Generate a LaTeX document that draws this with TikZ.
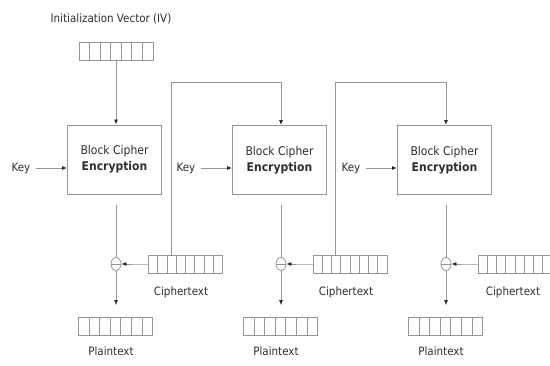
\documentclass[tikz,border=0pt]{standalone}
\usepackage{fontspec}
\setmainfont{DejaVu Sans Condensed}
\usetikzlibrary{arrows.meta,calc}
\definecolor{linegray}{HTML}{959595}
\definecolor{textgray}{HTML}{2E2E2E}
\tikzset{
  wire/.style={draw=linegray, line width=0.8pt},
  flow/.style={wire, -{Latex[length=5pt,width=4pt,color=black!85]}},
  cipherbox/.style={draw=linegray, line width=1pt, minimum width=94pt, minimum height=69pt,
    align=center, text=textgray, font=\fontsize{12}{16}\selectfont, inner sep=0pt},
  lbl/.style={text=textgray, font=\fontsize{11.5}{13}\selectfont, inner sep=1pt},
  cells/.style={draw=linegray, line width=0.8pt, minimum width=74pt, minimum height=18pt, inner sep=0pt,
    path picture={
      \foreach \i in {1,...,\numexpr#1-1\relax}
        \draw[linegray, line width=0.8pt]
          ($(path picture bounding box.south west)!\i/#1!(path picture bounding box.south east)$) --
          ($(path picture bounding box.north west)!\i/#1!(path picture bounding box.north east)$);
    }},
  xorsym/.style={draw=linegray, line width=0.8pt, ellipse, minimum width=10pt, minimum height=13pt, inner sep=0pt,
    path picture={\draw[linegray, line width=0.8pt]
      (path picture bounding box.west) -- (path picture bounding box.east);}}
}
\usetikzlibrary{shapes.geometric}
\begin{document}
\begin{tikzpicture}[x=1pt, y=-1pt]
  \useasboundingbox (0,0) rectangle (550,365);

  % initialization vector
  \node[lbl] (ivlabel) at (111,19) {Initialization Vector (IV)};
  \node[cells=7] (iv) at (116,51) {};

  % block cipher stages
  \node[cipherbox] (bc1) at (114.5,159.5) {Block Cipher\\\textbf{Encryption}};
  \node[cipherbox] (bc2) at (279.5,160) {Block Cipher\\\textbf{Encryption}};
  \node[cipherbox] (bc3) at (444.5,160) {Block Cipher\\\textbf{Encryption}};

  % keys
  \node[lbl] (key1) at (21,168) {Key};
  \node[lbl] (key2) at (186,168) {Key};
  \node[lbl] (key3) at (351,168) {Key};

  % xor points
  \node[xorsym] (x1) at (116,264) {};
  \node[xorsym] (x2) at (281,264) {};
  \node[xorsym] (x3) at (446,264) {};

  % ciphertext blocks
  \node[cells=8] (c1) at (185.5,264) {};
  \node[cells=8] (c2) at (350,264) {};
  \node[cells=8] (c3) at (515,264) {};
  \node[lbl] (c1l) at (181,292) {Ciphertext};
  \node[lbl] (c2l) at (346,292) {Ciphertext};
  \node[lbl] (c3l) at (513,292) {Ciphertext};

  % plaintext blocks
  \node[cells=7] (p1) at (115.5,326.5) {};
  \node[cells=7] (p2) at (280.5,326.5) {};
  \node[cells=7] (p3) at (445.5,326.5) {};
  \node[lbl] (p1l) at (111,351) {Plaintext};
  \node[lbl] (p2l) at (276,351) {Plaintext};
  \node[lbl] (p3l) at (441,351) {Plaintext};

  % connectors
  \draw[flow] (iv.south -| x1) -- (bc1.north -| x1);
  \foreach \k in {1,2,3} {
    \draw[flow] (key\k.east) ++(4,0) -- (bc\k.west |- key\k);
    \draw[wire] ($(bc\k.south -| x\k)+(0,10)$) -- (x\k.north);
    \draw[flow] (c\k.west) -- ++(-12,0) -- (x\k.east);
    \draw[flow] (x\k.south) -- ($(p\k.north)+(0.5,-12)$);
  }

  % chaining from each ciphertext to the next stage
  \coordinate (t1) at (171,82);
  \coordinate (t2) at (335,82);
  \draw[flow] (c1.north -| t1) -- (t1) -- (t1 -| x2) -- (bc2.north -| x2);
  \draw[flow] (c2.north -| t2) -- (t2) -- (t2 -| x3) -- (bc3.north -| x3);
\end{tikzpicture}
\end{document}
